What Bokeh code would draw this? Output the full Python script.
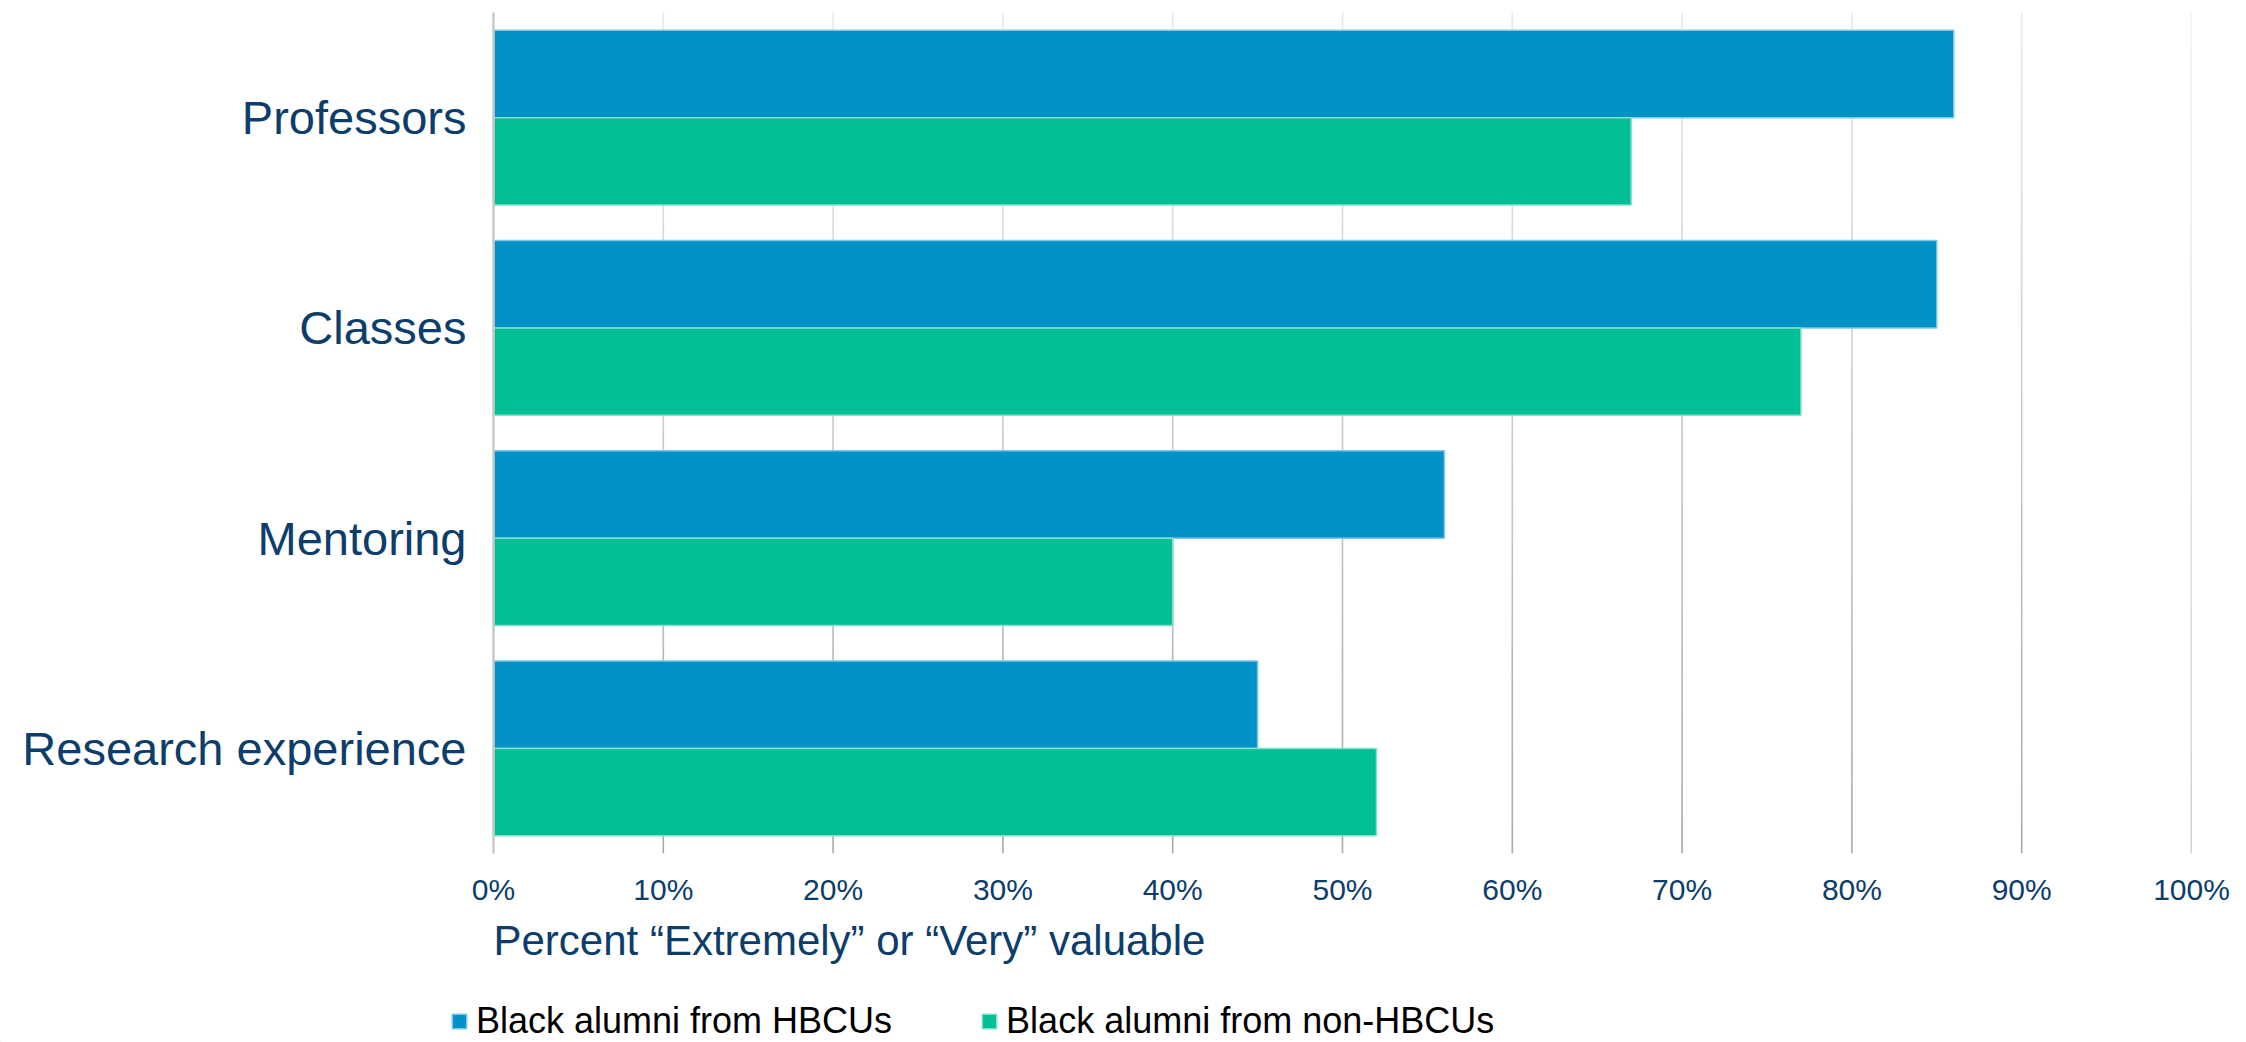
from bokeh.plotting import figure
from bokeh.models import (FactorRange, Range1d, FixedTicker, Legend, LegendItem,
                          Title, ColumnDataSource)
from bokeh.layouts import column
from bokeh.transform import dodge
from bokeh.embed import file_html
from bokeh.resources import INLINE

# ---- data ----
categories = ["Professors", "Classes", "Mentoring", "Research experience"]
hbcu_values = [86, 85, 56, 45]
non_hbcu_values = [67, 77, 40, 52]
series_names = ["Black alumni from HBCUs", "Black alumni from non-HBCUs"]
tick_values = [0, 10, 20, 30, 40, 50, 60, 70, 80, 90, 100]
tick_labels = ["0%", "10%", "20%", "30%", "40%", "50%", "60%", "70%", "80%", "90%", "100%"]
x_title = "Percent \u201cExtremely\u201d or \u201cVery\u201d valuable"

# ---- style ----
FONT = "Liberation Sans"
NAVY = "#0c3d6b"
BLUE = "#0392c8"
GREEN = "#00bf95"
BLUE_EDGE = "#7cc8e6"
GREEN_EDGE = "#86e0c9"
BAR_H = 0.415
W, H = 2246, 1042
LEG_H = 67

src = ColumnDataSource(dict(cat=categories, hbcu=hbcu_values, non=non_hbcu_values))

p = figure(width=W, height=H - LEG_H,
           y_range=FactorRange(factors=categories[::-1], range_padding=0),
           x_range=Range1d(0, 100),
           output_backend="svg", toolbar_location=None,
           min_border_left=493, min_border_right=55,
           min_border_top=12, min_border_bottom=H - LEG_H - 853)
p.outline_line_color = None
p.background_fill_color = "white"
p.border_fill_color = "white"
p.xgrid.grid_line_color = None
p.ygrid.grid_line_color = None

# gridlines with a light-to-darker vertical gradient (synthetic y: 0..N categories)
ncat = len(categories)
n = 24
gx, gy0, gy1, gc = [], [], [], []
for t in tick_values[1:]:
    for i in range(n):
        f = i / (n - 1)
        v = int(round(0xaa + (0xe8 - 0xaa) * f))
        gx.append(t)
        gy0.append(ncat * i / n)
        gy1.append(ncat * (i + 1) / n)
        gc.append("#%02x%02x%02x" % (v, v, v))
gr = p.segment(x0=gx, x1=gx, y0=gy0, y1=gy1, line_color=gc, line_width=1.6)
gr.level = "underlay"

r1 = p.hbar(y=dodge("cat", BAR_H / 2, range=p.y_range), left=0, right="hbcu",
            height=BAR_H, source=src, fill_color=BLUE, line_color=BLUE_EDGE,
            line_width=1.5)
r2 = p.hbar(y=dodge("cat", -BAR_H / 2, range=p.y_range), left=0, right="non",
            height=BAR_H, source=src, fill_color=GREEN, line_color=GREEN_EDGE,
            line_width=1.5)

# x axis
xa = p.xaxis[0]
xa.ticker = FixedTicker(ticks=tick_values)
xa.major_label_overrides = {v: l for v, l in zip(tick_values, tick_labels)}
xa.axis_line_color = None
xa.major_tick_line_color = None
xa.minor_tick_line_color = None
xa.major_tick_out = 0
xa.major_label_standoff = 19
xa.major_label_text_font = FONT
xa.major_label_text_font_size = "30px"
xa.major_label_text_color = NAVY

# y axis
ya = p.yaxis[0]
ya.axis_line_color = "#c8c8c8"
ya.axis_line_width = 2.5
ya.major_tick_line_color = None
ya.minor_tick_line_color = None
ya.major_tick_out = 0
ya.major_label_standoff = 27
ya.major_label_text_font = FONT
ya.major_label_text_font_size = "47px"
ya.major_label_text_color = NAVY

title = Title(text=x_title, align="left", text_font=FONT, text_font_size="42px",
              text_font_style="normal", text_color=NAVY, standoff=12, offset=0)
p.add_layout(title, "below")

# ---- legend strip (separate figure so it is not clipped) ----
lf = figure(width=W, height=LEG_H, x_range=Range1d(0, 1), y_range=Range1d(0, 1),
            output_backend="svg", toolbar_location=None,
            x_axis_type=None, y_axis_type=None,
            min_border_left=0, min_border_right=0, min_border_top=0,
            min_border_bottom=0)
leg_x = 450 - 493
try:
    lf.frame_align = False
    leg_x = 450
except Exception:
    pass
lf.outline_line_color = None
lf.xgrid.grid_line_color = None
lf.ygrid.grid_line_color = None
# legend swatch renderers (their single row lies far outside the visible ranges)
l1 = lf.hbar(y=[-100], left=[-100], right=[-99], height=0.5,
             fill_color=BLUE, line_color=BLUE_EDGE, line_width=1.5)
l2 = lf.hbar(y=[-100], left=[-100], right=[-99], height=0.5,
             fill_color=GREEN, line_color=GREEN_EDGE, line_width=1.5)
legend = Legend(items=[LegendItem(label=series_names[0], renderers=[l1]),
                       LegendItem(label=series_names[1], renderers=[l2])],
                orientation="horizontal", location=(leg_x, 0),
                label_text_font=FONT, label_text_font_size="36px",
                label_text_color="#000000", glyph_width=18, glyph_height=18,
                label_standoff=8, spacing=88, padding=0, margin=0,
                border_line_color=None, background_fill_alpha=0)
lf.add_layout(legend)

layout = column(p, lf, spacing=0)
open("out.html", "w").write(file_html(layout, INLINE))
